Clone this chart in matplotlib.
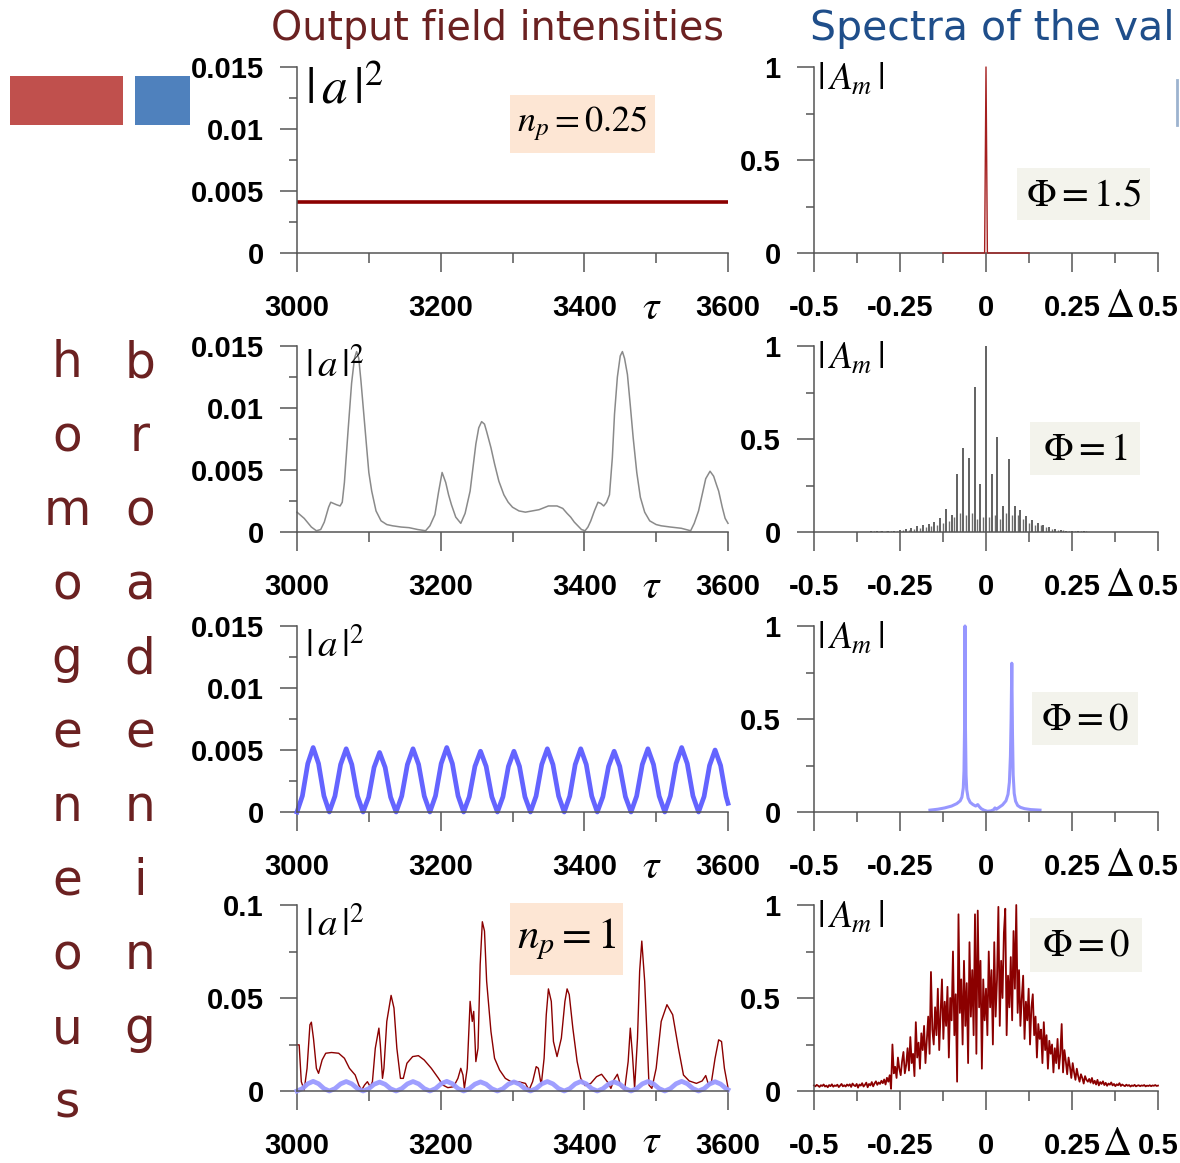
import numpy as np
import matplotlib
matplotlib.use('Agg')
import matplotlib.pyplot as plt
from matplotlib.patches import Rectangle
from matplotlib.lines import Line2D
from matplotlib.ticker import FixedLocator
from matplotlib.font_manager import FontProperties

# ---------------- data ----------------
# Row 1 (n_p = 0.25, Phi = 1.5)
t1 = [3000, 3600]
a1 = [0.0041, 0.0041]
x1r = [-0.125, -0.004, 0.0, 0.004, 0.125]
y1r = [0.0, 0.0, 1.0, 0.0, 0.0]

# Row 2 (Phi = 1)
t2 = [3000, 3010, 3020, 3027, 3033, 3038, 3044, 3047, 3051, 3055,
      3060, 3063, 3066, 3071, 3076, 3080, 3083, 3086, 3089, 3093,
      3097, 3100, 3104, 3110, 3117, 3125, 3133, 3145, 3156, 3168,
      3179, 3185, 3192, 3197, 3202, 3207, 3211, 3215, 3221, 3228,
      3234, 3241, 3245, 3249, 3253, 3257, 3261, 3264, 3270, 3275,
      3281, 3288, 3294, 3300, 3309, 3318, 3337, 3350, 3362, 3370,
      3376, 3381, 3386, 3391, 3396, 3401, 3405, 3409, 3414, 3419,
      3423, 3427, 3431, 3435, 3439, 3442, 3446, 3450, 3453, 3456,
      3460, 3464, 3468, 3473, 3478, 3484, 3491, 3500, 3507, 3520,
      3535, 3548, 3553, 3559, 3564, 3569, 3575, 3580, 3584, 3587,
      3592, 3596, 3600]
a2 = [0.0016, 0.0011, 0.0004, 0.0001, 0.0002, 0.0008, 0.0020, 0.0024, 0.0023, 0.0022,
      0.0021, 0.0024, 0.0040, 0.0081, 0.0120, 0.0140, 0.01455, 0.0140, 0.0122, 0.0095,
      0.0068, 0.0048, 0.0033, 0.0017, 0.0009, 0.0006, 0.0005, 0.0004, 0.00035, 0.0002,
      0.0001, 0.0005, 0.0014, 0.0032, 0.0048, 0.0040, 0.0030, 0.0022, 0.0012, 0.0007,
      0.0015, 0.0033, 0.0052, 0.0071, 0.0084, 0.0089, 0.0087, 0.0081, 0.0068, 0.0055,
      0.0041, 0.0030, 0.0024, 0.0020, 0.0017, 0.0016, 0.0018, 0.0021, 0.0021, 0.0019,
      0.0015, 0.0012, 0.0008, 0.0005, 0.0002, 0.0001, 0.0004, 0.0009, 0.0017, 0.0024,
      0.0023, 0.0021, 0.0024, 0.0030, 0.0060, 0.0095, 0.0125, 0.0142, 0.01455, 0.0140,
      0.0127, 0.0102, 0.0076, 0.0048, 0.0028, 0.0016, 0.0009, 0.0006, 0.0005, 0.0004,
      0.0003, 0.0001, 0.0007, 0.0017, 0.0030, 0.0043, 0.0049, 0.0045, 0.0038, 0.0033,
      0.0020, 0.0011, 0.0007]
comb_pos = [-0.334, -0.317, -0.301, -0.284, -0.267, -0.251, -0.234, -0.217, -0.200, -0.184,
            -0.167, -0.150, -0.134, -0.117, -0.100, -0.083, -0.067, -0.050, -0.033, -0.017,
            0.000,
            0.017, 0.033, 0.050, 0.067, 0.083, 0.100, 0.117, 0.134, 0.150, 0.167,
            0.184, 0.200, 0.217, 0.234, 0.251, 0.267, 0.284, 0.301]
comb_h = [0.003, 0.004, 0.005, 0.006, 0.008, 0.010, 0.015, 0.022, 0.030, 0.040,
          0.045, 0.055, 0.075, 0.125, 0.090, 0.310, 0.450, 0.400, 0.780, 0.260,
          1.000,
          0.310, 0.510, 0.140, 0.390, 0.140, 0.120, 0.085, 0.065, 0.048, 0.035,
          0.025, 0.016, 0.012, 0.008, 0.005, 0.004, 0.003, 0.002]
sec_pos = [-0.326, -0.309, -0.292, -0.276, -0.259, -0.242, -0.225, -0.209, -0.192, -0.175,
           -0.159, -0.142, -0.125, -0.109, -0.092, -0.075, -0.058, -0.042, -0.025, -0.008,
           0.008, 0.025, 0.042, 0.058, 0.075, 0.092, 0.109, 0.125, 0.142, 0.159,
           0.175, 0.192, 0.209, 0.225, 0.242, 0.259, 0.276, 0.292]
sec_h = [0.003, 0.004, 0.005, 0.006, 0.007, 0.009, 0.012, 0.016, 0.020, 0.025,
         0.030, 0.035, 0.050, 0.060, 0.080, 0.100, 0.090, 0.100, 0.070, 0.080,
         0.080, 0.090, 0.070, 0.100, 0.090, 0.090, 0.070, 0.050, 0.040, 0.035,
         0.025, 0.018, 0.012, 0.009, 0.007, 0.005, 0.004, 0.003]

# Row 3 (Phi = 0, homogeneous)
t3 = [3000, 3007.5, 3015, 3022.5, 3030, 3037.5,
      3045, 3052.8, 3060.7, 3068.5, 3076.3, 3084.2,
      3092, 3099.7, 3107.3, 3115, 3122.7, 3130.3,
      3138, 3145.8, 3153.7, 3161.5, 3169.3, 3177.2,
      3185, 3192.8, 3200.7, 3208.5, 3216.3, 3224.2,
      3232, 3239.8, 3247.7, 3255.5, 3263.3, 3271.2,
      3279, 3286.7, 3294.3, 3302, 3309.7, 3317.3,
      3325, 3332.8, 3340.7, 3348.5, 3356.3, 3364.2,
      3372, 3379.7, 3387.3, 3395, 3402.7, 3410.3,
      3418, 3425.8, 3433.7, 3441.5, 3449.3, 3457.2,
      3465, 3472.8, 3480.7, 3488.5, 3496.3, 3504.2,
      3512, 3519.8, 3527.7, 3535.5, 3543.3, 3551.2,
      3559, 3566.7, 3574.3, 3582, 3589.7, 3597.3,
      3600]
a3 = [0, 0.0013, 0.0039, 0.0052, 0.0039, 0.0013,
      0, 0.00128, 0.00383, 0.0051, 0.00383, 0.00128,
      0, 0.0012, 0.0036, 0.0048, 0.0036, 0.0012,
      0, 0.00128, 0.00383, 0.0051, 0.00383, 0.00128,
      0, 0.0013, 0.0039, 0.0052, 0.0039, 0.0013,
      0, 0.00123, 0.00368, 0.0049, 0.00368, 0.00123,
      0, 0.00123, 0.00368, 0.0049, 0.00368, 0.00123,
      0, 0.00128, 0.00383, 0.0051, 0.00383, 0.00128,
      0, 0.00128, 0.00383, 0.0051, 0.00383, 0.00128,
      0, 0.00123, 0.00368, 0.0049, 0.00368, 0.00123,
      0, 0.00128, 0.00383, 0.0051, 0.00383, 0.00128,
      0, 0.0013, 0.0039, 0.0052, 0.0039, 0.0013,
      0, 0.00125, 0.00375, 0.0050, 0.00375, 0.00125,
      0.0007]
x3r = [-0.163, -0.14, -0.12, -0.10, -0.085, -0.075, -0.070, -0.066, -0.064, -0.062,
       -0.061, -0.060, -0.058, -0.056, -0.052, -0.046, -0.038, -0.030, -0.024, -0.020,
       -0.014, -0.006, 0.004, 0.014, 0.022, 0.026, 0.030, 0.038, 0.048, 0.058,
       0.064, 0.068, 0.071, 0.073, 0.075, 0.077, 0.079, 0.082, 0.086, 0.092,
       0.100, 0.112, 0.130, 0.157]
y3r = [0.010, 0.015, 0.022, 0.032, 0.045, 0.060, 0.080, 0.130, 0.220, 0.500,
       1.000, 0.500, 0.200, 0.120, 0.075, 0.052, 0.040, 0.032, 0.040, 0.030,
       0.018, 0.010, 0.004, 0.006, 0.012, 0.022, 0.015, 0.025, 0.038, 0.060,
       0.095, 0.160, 0.300, 0.500, 0.800, 0.420, 0.200, 0.100, 0.058, 0.035,
       0.025, 0.018, 0.013, 0.010]

# Row 4 (n_p = 1, Phi = 0, inhomogeneous)
t4 = [3000, 3003, 3006, 3010, 3014, 3018, 3020, 3023, 3027, 3030,
      3035, 3040, 3048, 3058, 3066, 3073, 3081, 3086, 3090, 3094,
      3098, 3102, 3105, 3109, 3114, 3116, 3119, 3121, 3125, 3131,
      3135, 3139, 3144, 3148, 3153, 3161, 3169, 3177, 3187, 3197,
      3203, 3210, 3218, 3224, 3228, 3231, 3233, 3237, 3241, 3244,
      3246, 3249, 3252, 3255, 3258, 3261, 3264, 3270, 3275, 3282,
      3290, 3298, 3308, 3318, 3323, 3328, 3333, 3336, 3340, 3344,
      3347, 3350, 3354, 3357, 3362, 3368, 3373, 3376, 3379, 3384,
      3390, 3395, 3401, 3409, 3417, 3424, 3432, 3437, 3441, 3446,
      3451, 3456, 3461, 3464, 3467, 3470, 3474, 3477, 3480, 3484,
      3487, 3490, 3494, 3500, 3507, 3515, 3523, 3531, 3538, 3546,
      3556, 3564, 3569, 3573, 3577, 3582, 3587, 3591, 3595, 3600]
a4 = [0.0248, 0.0248, 0.0050, 0.0005, 0.0122, 0.0356, 0.0370, 0.0280, 0.0122, 0.0095,
      0.0167, 0.0203, 0.0207, 0.0203, 0.0176, 0.0122, 0.0086, 0.0032, 0.0005, 0.0032,
      0.0050, 0.0023, 0.0050, 0.0230, 0.0338, 0.0248, 0.0068, 0.0122, 0.0374, 0.0514,
      0.0446, 0.0230, 0.0068, 0.0068, 0.0149, 0.0185, 0.0190, 0.0167, 0.0122, 0.0068,
      0.0032, 0.0018, 0.0023, 0.0068, 0.0122, 0.0086, 0.0014, 0.0122, 0.0482, 0.0374,
      0.0428, 0.0158, 0.0230, 0.0680, 0.0910, 0.0860, 0.0590, 0.0320, 0.0176, 0.0113,
      0.0068, 0.0050, 0.0050, 0.0041, 0.0005, 0.0050, 0.0131, 0.0122, 0.0032, 0.0176,
      0.0410, 0.0549, 0.0482, 0.0266, 0.0185, 0.0284, 0.0482, 0.0549, 0.0518, 0.0338,
      0.0158, 0.0068, 0.0029, 0.0041, 0.0077, 0.0090, 0.0050, 0.0014, 0.0059, 0.0090,
      0.0023, 0.0005, 0.0158, 0.0338, 0.0194, 0.0014, 0.0284, 0.0644, 0.0806, 0.0590,
      0.0320, 0.0032, 0.0014, 0.0122, 0.0374, 0.0464, 0.0410, 0.0230, 0.0086, 0.0054,
      0.0041, 0.0054, 0.0083, 0.0032, 0.0050, 0.0176, 0.0275, 0.0266, 0.0122, 0.0018]
spec4 = [
    0.030, 0.025, 0.033, 0.028, 0.022, 0.031, 0.027, 0.035, 0.024, 0.029,
    0.020, 0.032, 0.026, 0.036, 0.023, 0.030, 0.027, 0.034, 0.021, 0.029,
    0.038, 0.025, 0.031, 0.024, 0.035,
    0.028, 0.036, 0.022, 0.040, 0.031, 0.026, 0.038, 0.018, 0.035, 0.029,
    0.042, 0.024, 0.033, 0.045, 0.020, 0.038, 0.030, 0.048, 0.025, 0.041,
    0.052, 0.033, 0.046, 0.038, 0.055,
    0.042, 0.062, 0.035, 0.071, 0.050, 0.085, 0.012, 0.250, 0.095, 0.130,
    0.070, 0.180, 0.120, 0.085, 0.160, 0.210, 0.095, 0.140, 0.230, 0.110,
    0.290, 0.150, 0.200, 0.080, 0.370,
    0.180, 0.260, 0.120, 0.310, 0.220, 0.350, 0.150, 0.280, 0.400, 0.200,
    0.640, 0.330, 0.250, 0.450, 0.300, 0.550, 0.220, 0.420, 0.600, 0.280,
    0.480, 0.350, 0.560, 0.180, 0.500,
    0.380, 0.750, 0.300, 0.520, 0.050, 0.950, 0.420, 0.600, 0.250, 0.700,
    0.350, 0.580, 0.150, 0.800, 0.400, 0.650, 0.300, 0.950, 0.200, 0.970,
    0.450, 0.700, 0.120, 0.600, 0.380,
    0.550, 0.300, 0.750, 0.450, 0.650, 0.250, 0.800, 0.400, 0.600, 0.990,
    0.350, 0.700, 0.500, 0.850, 0.980, 0.300, 0.620, 0.450, 0.720, 0.380,
    0.860, 0.550, 1.000, 0.420, 0.650,
    0.350, 0.500, 0.620, 0.280, 0.480, 0.380, 0.550, 0.250, 0.450, 0.520,
    0.300, 0.400, 0.180, 0.360, 0.280, 0.330, 0.150, 0.370, 0.220, 0.300,
    0.120, 0.270, 0.200, 0.250, 0.100,
    0.230, 0.150, 0.280, 0.120, 0.200, 0.360, 0.100, 0.220, 0.160, 0.090,
    0.180, 0.130, 0.070, 0.150, 0.100, 0.060, 0.120, 0.080, 0.050, 0.090,
    0.070, 0.040, 0.080, 0.060, 0.050,
    0.065, 0.045, 0.070, 0.040, 0.055, 0.035, 0.060, 0.030, 0.048, 0.038,
    0.052, 0.032, 0.044, 0.028, 0.040, 0.034, 0.046, 0.030, 0.038, 0.026,
    0.036, 0.031, 0.042, 0.027, 0.035,
    0.030, 0.026, 0.034, 0.028, 0.032, 0.024, 0.030, 0.027, 0.033, 0.025,
    0.029, 0.031, 0.026, 0.030, 0.028, 0.032, 0.025, 0.029, 0.027, 0.031,
    0.026, 0.030, 0.028, 0.032, 0.027, 0.029]
delta4 = np.linspace(-0.5, 0.5, len(spec4))

# ticks / labels
tau_major = [3000, 3200, 3400, 3600]
tau_minor = [3100, 3300, 3500]
tau_labels = ['3000', '3200', '3400', '3600']
int_major = [0, 0.005, 0.01, 0.015]
int_minor = [0.0025, 0.0075, 0.0125]
int_labels = ['0', '0.005', '0.01', '0.015']
int4_major = [0, 0.05, 0.1]
int4_minor = [0.025, 0.075]
int4_labels = ['0', '0.05', '0.1']
d_major = [-0.5, -0.25, 0, 0.25, 0.5]
d_minor = [-0.375, -0.125, 0.125, 0.375]
d_labels = ['-0.5', '-0.25', '0', '0.25', '0.5']
s_major = [0, 0.5, 1]
s_minor = [0.25, 0.75]
s_labels = ['0', '0.5', '1']

word1 = 'homogeneous'
word2 = 'broadening'

# ---------------- figure ----------------
W, H = 1180, 1163
DPI = 100
plt.rcParams['mathtext.fontset'] = 'stix'
fig = plt.figure(figsize=(W / DPI, H / DPI), dpi=DPI)
fig.patch.set_facecolor('white')

def fx(px):
    return px / W

def fy(py):
    return 1 - py / H

AXC = '#555555'
MAROON = '#6B2121'
tickfp = FontProperties(family=['Liberation Sans', 'DejaVu Sans'], weight='bold', size=21)

LEFT = (297, 728)
RIGHT = (814, 1158)
ROW_TOP = [67, 346, 626, 905]
ROW_H = 186

def make_ax(col, row, xlim, ylim, xmaj, xmin, xlab, ymaj, ymin, ylab):
    x0, x1 = LEFT if col == 0 else RIGHT
    top = ROW_TOP[row]
    ax = fig.add_axes([fx(x0), fy(top + ROW_H), (x1 - x0) / W, ROW_H / H])
    ax.set_facecolor('none')
    ax.set_xlim(*xlim)
    ax.set_ylim(*ylim)
    for s in ['top', 'right']:
        ax.spines[s].set_visible(False)
    for s in ['left', 'bottom']:
        ax.spines[s].set_color(AXC)
        ax.spines[s].set_linewidth(1.1)
    ax.xaxis.set_major_locator(FixedLocator(xmaj))
    ax.xaxis.set_minor_locator(FixedLocator(xmin))
    ax.yaxis.set_major_locator(FixedLocator(ymaj))
    ax.yaxis.set_minor_locator(FixedLocator(ymin))
    ax.set_xticklabels(xlab)
    ax.set_yticklabels(ylab)
    ax.tick_params(axis='x', which='major', direction='out', length=13.5, width=1.1,
                   color=AXC, pad=16)
    ax.tick_params(axis='x', which='minor', direction='out', length=7, width=1.1, color=AXC)
    ax.tick_params(axis='y', which='major', direction='out', length=12, width=1.1,
                   color=AXC, pad=12)
    ax.tick_params(axis='y', which='minor', direction='out', length=6, width=1.1, color=AXC)
    for lab in ax.get_xticklabels() + ax.get_yticklabels():
        lab.set_fontproperties(tickfp)
        lab.set_color('black')
    return ax

def left_ax(row, ylim=(0, 0.015), ymaj=int_major, ymin=int_minor, ylab=int_labels):
    return make_ax(0, row, (3000, 3600), ylim, tau_major, tau_minor, tau_labels, ymaj, ymin, ylab)

def right_ax(row):
    return make_ax(1, row, (-0.5, 0.5), (0, 1), d_major, d_minor, d_labels, s_major, s_minor, s_labels)

# Row 1
ax = left_ax(0)
ax.plot(t1, a1, color='#8B0000', lw=2.6, solid_capstyle='butt')
ax = right_ax(0)
ax.plot(x1r, y1r, color='#A52020', lw=1.0, clip_on=False, zorder=5)

# Row 2
ax = left_ax(1)
ax.plot(t2, a2, color='#8A8A8A', lw=1.1, clip_on=False)
ax = right_ax(1)
ax.vlines(sec_pos, 0, sec_h, color='#6E6E6E', lw=1.0)
ax.vlines(comb_pos, 0, comb_h, color='#555555', lw=1.3)

# Row 3
ax = left_ax(2)
ax.plot(t3, a3, color='#6464FF', lw=3.4, clip_on=False)
ax = right_ax(2)
ax.plot(x3r, y3r, color='#8C8CFF', lw=2.2, alpha=0.9, clip_on=False)

# Row 4
ax = left_ax(3, ylim=(0, 0.1), ymaj=int4_major, ymin=int4_minor, ylab=int4_labels)
ax.plot(t4, a4, color='#8B0000', lw=1.0, clip_on=False)
ax.plot(t3, a3, color='#9A9AFF', lw=3.4, clip_on=False, alpha=0.95)
ax = right_ax(3)
ax.plot(delta4, spec4, color='#8B0000', lw=1.3, clip_on=False)

# ---------------- decorations ----------------
fig.text(fx(497), fy(40), 'Output field intensities', color=MAROON, fontsize=28.5,
         family='DejaVu Sans', ha='center', va='baseline')
fig.text(fx(810), fy(40), 'Spectra of the val', color='#1F4E8A', fontsize=29.5,
         family='DejaVu Sans', ha='left', va='baseline')

fig.patches.append(Rectangle((fx(10), fy(125)), 113 / W, 49 / H, transform=fig.transFigure,
                             facecolor='#C0504D', edgecolor='none'))
fig.patches.append(Rectangle((fx(135), fy(125)), 55 / W, 49 / H, transform=fig.transFigure,
                             facecolor='#4F81BD', edgecolor='none'))
fig.lines.append(Line2D([fx(1177), fx(1177)], [fy(80), fy(125)], transform=fig.transFigure,
                        color='#9DB3CF', lw=2))

for i, ch in enumerate(word1):
    fig.text(fx(67), fy(377 + 74 * i), ch, color=MAROON, fontsize=35, family='DejaVu Sans',
             ha='center', va='baseline')
for i, ch in enumerate(word2):
    fig.text(fx(140), fy(377 + 74 * i), ch, color=MAROON, fontsize=35, family='DejaVu Sans',
             ha='center', va='baseline')

# |a|^2 and |A_m| labels
fig.text(fx(305), fy(90), r'$|\,a\,|^2$', fontsize=37, ha='left', va='center')
for r in range(1, 4):
    fig.text(fx(305), fy(ROW_TOP[r] + 20), r'$|\,a\,|^2$', fontsize=28, ha='left', va='center')
for r in range(4):
    fig.text(fx(817), fy(ROW_TOP[r] + 13), r'$|\,A_m\,|$', fontsize=27, ha='left', va='center')

# tau and Delta axis symbols
for r in range(4):
    yb = ROW_TOP[r] + ROW_H + 54
    fig.text(fx(652), fy(yb if r < 3 else yb - 4), r'$\tau$', fontsize=30, ha='center',
             va='center')
    fig.text(fx(1120 if r < 3 else 1117), fy(yb - 1), r'$\Delta$', fontsize=29,
             ha='center', va='center')

def box(x0, y0, x1, y1, color, txt, size):
    fig.patches.append(Rectangle((fx(x0), fy(y1)), (x1 - x0) / W, (y1 - y0) / H,
                                 transform=fig.transFigure, facecolor=color, edgecolor='none',
                                 zorder=0.5))
    fig.text(fx((x0 + x1) / 2), fy((y0 + y1) / 2), txt, fontsize=size, ha='center', va='center')

PEACH = '#FDE6D4'
GREY = '#F3F3EC'
box(510, 95, 655, 153, PEACH, r'$n_p=0.25$', 26)
box(1017, 168, 1150, 220, GREY, r'$\Phi=1.5$', 28)
box(1030, 422, 1140, 475, GREY, r'$\Phi=1$', 28)
box(1032, 692, 1138, 745, GREY, r'$\Phi=0$', 28)
box(510, 903, 623, 975, PEACH, r'$n_p=1$', 31)
box(1030, 918, 1142, 972, GREY, r'$\Phi=0$', 28)

fig.savefig('out.png', dpi=DPI)
